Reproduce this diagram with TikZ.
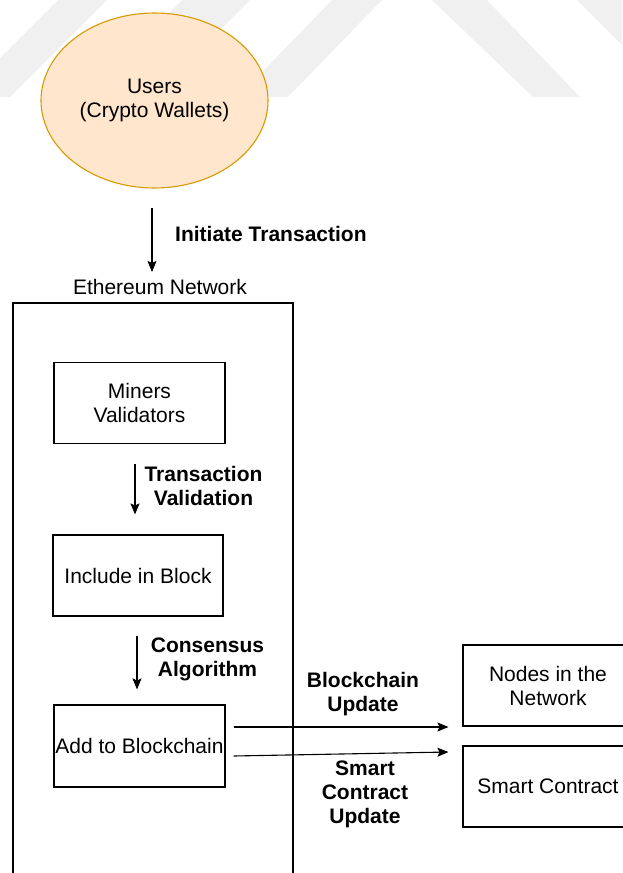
\documentclass[tikz,border=0pt]{standalone}
\usepackage{fontspec}
\setmainfont{Liberation Sans}
\usetikzlibrary{shapes.geometric,arrows.meta,calc}
\definecolor{wm}{HTML}{F0F0F0}
\definecolor{userfill}{HTML}{FFE6CC}
\definecolor{userdraw}{HTML}{D79B00}
\begin{document}
\begin{tikzpicture}[x=1pt,y=-1pt,
  txt/.style={font=\fontsize{21}{24}\selectfont, align=center, inner sep=0pt},
  box/.style={txt, draw, line width=1.1pt, rectangle, minimum width=171pt, minimum height=81pt},
  lbl/.style={font=\fontsize{21}{24}\selectfont\bfseries, align=center, inner sep=0pt},
  arr/.style={-{Stealth[length=11pt,width=9pt,inset=2pt]}, line width=1.1pt}]
\useasboundingbox (0,0) rectangle (622,873);
% watermark
\begin{scope}
\clip (0,0) rectangle (622,873);
\fill[wm] (58,0) -- (107,0) -- (10,97) -- (-39,97) -- cycle;
\fill[wm] (182,0) -- (250,0) -- (153,97) -- (85,97) -- cycle;
\fill[wm] (332,0) -- (382,0) -- (288,97) -- (238,97) -- cycle;
\fill[wm] (432,0) -- (487,0) -- (580,97) -- (533,97) -- cycle;
\fill[wm] (577,0) -- (627,0) -- (724,97) -- (674,97) -- cycle;
\end{scope}
% users
\node[txt, ellipse, draw=userdraw, fill=userfill, line width=1.1pt, minimum width=227pt, minimum height=175pt] (users) at (154.5,100.5) {Users\\(Crypto Wallets)};
\coordinate (i1) at (152,208);
\coordinate (i2) at (152,272);
\draw[arr] (i1) -- (i2);
\node[lbl, anchor=west] (initlbl) at (175,234) {Initiate Transaction};
% ethereum network container
\node[txt] (ethlbl) at (160,287) {Ethereum Network};
\coordinate (c1) at (13,880);
\coordinate (c2) at (13,303);
\coordinate (c3) at (293,303);
\coordinate (c4) at (293,880);
\draw[line width=1.1pt] (c1) -- (c2) -- (c3) -- (c4);
% boxes
\node[box] (miners) at (139.5,403) {Miners\\Validators};
\node[box, minimum width=170pt] (include) at (138,575.5) {Include in Block};
\node[box, minimum height=82pt] (add) at (139.5,746) {Add to Blockchain};
\node[box, minimum width=170pt] (nodes) at (548,685.5) {Nodes in the\\Network};
\node[box, minimum width=170pt] (smart) at (548,786.5) {Smart Contract};
% arrows
\draw[arr] ($(miners.south)+(-4.5,20)$) -- ($(include.north)+(-3,-20)$);
\node[lbl] (tvlbl) at (203.5,485.5) {Transaction\\Validation};
\draw[arr] ($(include.south)+(-1,19)$) -- ($(add.north)+(-2.5,-15)$);
\node[lbl] (calbl) at (207.5,659.5) {Consensus\\Algorithm};
\draw[arr] ($(add.east)+(8,-19)$) -- ($(nodes.west)+(-14,41.5)$);
\draw[arr] ($(add.east)+(8,10)$) -- ($(smart.west)+(-14,-34.5)$);
\node[lbl] (bulbl) at (363,694.5) {Blockchain\\Update};
\node[lbl] (sculbl) at (365,794.5) {Smart\\Contract\\Update};
\end{tikzpicture}
\end{document}
